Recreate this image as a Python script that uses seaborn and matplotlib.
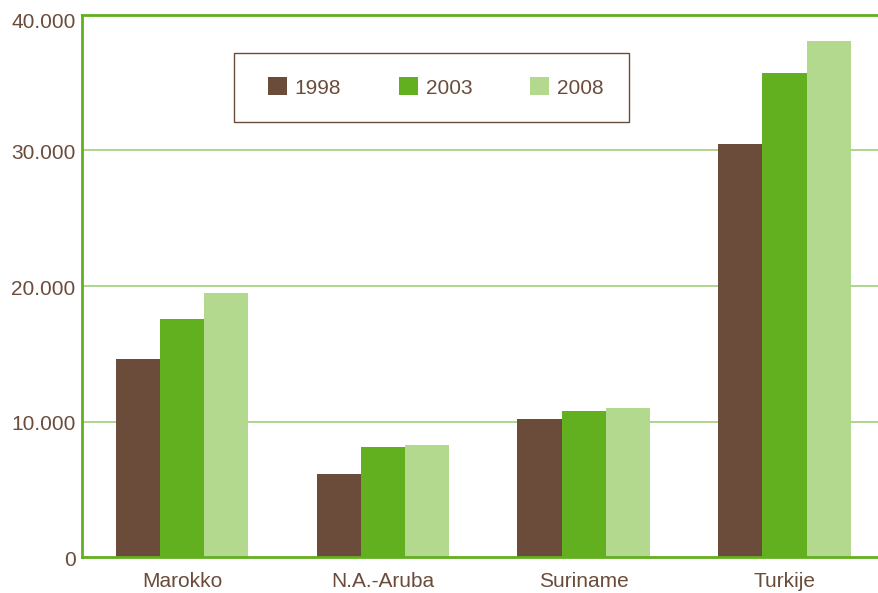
import matplotlib
matplotlib.use("Agg")
import matplotlib.pyplot as plt
import matplotlib.ticker as mticker
import matplotlib.transforms as mtransforms
from matplotlib.patches import Rectangle
import seaborn as sns
import pandas as pd

categories = ["Marokko", "N.A.-Aruba", "Suriname", "Turkije"]
years = ["1998", "2003", "2008"]
values_1998 = [14600, 6150, 10220, 30450]
values_2003 = [17550, 8150, 10800, 35700]
values_2008 = [19450, 8300, 11030, 38050]
yticks = [0, 10000, 20000, 30000, 40000]

colors = ["#6B4C3B", "#62AF1F", "#B3D98F"]
text_color = "#6B4C3B"
spine_color = "#62AF1F"
grid_color = "#A6D283"

rows = []
for yr, vals in zip(years, [values_1998, values_2003, values_2008]):
    for c, v in zip(categories, vals):
        rows.append({"cat": c, "year": yr, "value": v})
df = pd.DataFrame(rows)

sns.set_style("white")
plt.rcParams["font.family"] = ["Liberation Sans", "DejaVu Sans"]

W, H = 879, 593
fig = plt.figure(figsize=(W / 100, H / 100), dpi=100)
left, right, top, bottom = 82.5, 879, 15, 557
ax = fig.add_axes([left / W, (H - bottom) / H, (right - left) / W, (bottom - top) / H])

sns.barplot(data=df, x="cat", y="value", hue="year", palette=colors,
            width=0.66, saturation=1, ax=ax, legend=False, zorder=3,
            linewidth=0, edgecolor="none")

ax.set_ylim(0, 40000)
ax.set_xlim(-0.495, 3.47)
ax.set_yticks(yticks)
ax.yaxis.set_major_formatter(mticker.FuncFormatter(lambda v, p: f"{int(v):,}".replace(",", ".")))
ax.set_xlabel("")
ax.set_ylabel("")

for yv in yticks[1:-1]:
    ax.axhline(yv, color=grid_color, lw=1.3, zorder=1)

for s in ["left", "bottom", "top"]:
    ax.spines[s].set_color(spine_color)
    ax.spines[s].set_linewidth(2)
    ax.spines[s].set_zorder(5)
ax.spines["right"].set_visible(False)

ax.tick_params(axis="y", length=0, pad=5, labelsize=15, labelcolor=text_color)
ax.tick_params(axis="x", length=0, pad=11, labelsize=15, labelcolor=text_color)

# shift labels slightly down like the reference (top one more)
for i, lbl in enumerate(ax.get_yticklabels()):
    dy = -6 if i == len(yticks) - 1 else -1.5
    lbl.set_transform(lbl.get_transform() + mtransforms.ScaledTranslation(0, dy / 100, fig.dpi_scale_trans))

# Legend box
bx0, bx1, by0, by1 = 234, 629, 53, 122
def ax_coords(px, py):
    return ((px - left) / (right - left), (bottom - py) / (bottom - top))
x0, y0 = ax_coords(bx0, by1)
x1, y1 = ax_coords(bx1, by0)
ax.add_patch(Rectangle((x0, y0), x1 - x0, y1 - y0, transform=ax.transAxes,
                       facecolor="white", edgecolor=text_color, lw=1, zorder=6))
handles = [Rectangle((0, 0), 1, 1, facecolor=c, edgecolor="none") for c in colors]
cx, cy = ax_coords((bx0 + bx1) / 2 + 4, (by0 + by1) / 2)
leg = ax.legend(handles, years, loc="center", bbox_to_anchor=(cx, cy), ncol=3,
                frameon=False, fontsize=15, handlelength=0.95, handleheight=0.95,
                handletextpad=0.35, columnspacing=2.75, borderpad=0)
for t in leg.get_texts():
    t.set_color(text_color)
leg.set_zorder(7)

fig.savefig("out.png", dpi=100)
